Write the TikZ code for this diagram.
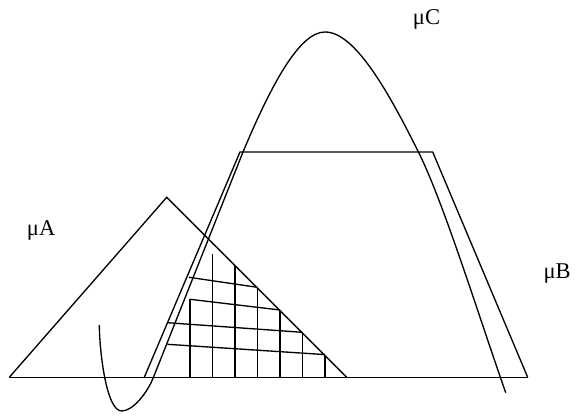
\documentclass[tikz,border=0pt]{standalone}
\usepackage{fontspec}
\setmainfont{Liberation Serif}
\begin{document}
\begin{tikzpicture}[x=0.75pt,y=-0.75pt,
  shape line/.style={line width=1pt, line join=miter},
  hatch/.style={line width=1pt},
  lbl/.style={inner sep=0pt, anchor=base west, font=\fontsize{16.9}{20}\selectfont}]
\useasboundingbox (0,0) rectangle (582,417);
% baseline
\coordinate (bl) at (9.3,377.3);
\coordinate (br) at (527.7,377.3);
\draw[shape line] (bl) -- (br);
% triangle A
\coordinate (ta) at (166.7,197.3);
\coordinate (tr) at (346.7,377.3);
\draw[shape line] (bl) -- (ta) -- (tr);
% trapezoid B
\coordinate (b1) at (144.3,377.3);
\coordinate (b2) at (240,152);
\coordinate (b3) at (432.7,152);
\draw[shape line] (b1) -- (b2) -- (b3) -- (br);
% curve C
\coordinate (c0) at (99.3,325);
\coordinate (cmin) at (121.7,411);
\coordinate (c1) at (153.3,377.7);
\coordinate (c2) at (243,152);
\coordinate (cpk) at (325,32);
\coordinate (c3) at (418.3,151.7);
\coordinate (cend) at (505.7,392.7);
\draw[shape line] (c0) .. controls (99.5,350) and (106,411) .. (cmin)
  .. controls (133,411) and (147.3,392.7) .. (c1) -- (c2)
  .. controls (272.4,82) and (300,32) .. (cpk)
  .. controls (355,32) and (388.3,91.7) .. (c3)
  .. controls (443.3,201.7) and (477.7,312.7) .. (cend);
% hatching: vertical lines
\draw[hatch] (190,299.3) -- (190,377.3);
\draw[hatch] (212.3,254) -- (212.3,377.3);
\draw[hatch] (235,265.6) -- (235,377.3);
\draw[hatch] (257.3,287.9) -- (257.3,377.3);
\draw[hatch] (280,310.6) -- (280,377.3);
\draw[hatch] (302.3,332.9) -- (302.3,377.3);
\draw[hatch] (325,355.6) -- (325,377.3);
% hatching: cross lines
\draw[hatch] (189,277.3) -- (257.3,287.3);
\draw[hatch] (190,299.3) -- (280,310);
\draw[hatch] (167.3,322.7) -- (302.3,332.3);
\draw[hatch] (167.3,344.3) -- (325,354.6);
% labels
\node[lbl] (la) at (26.7,235.3) {μA};
\node[lbl] (lb) at (543.3,278.5) {μB};
\node[lbl] (lc) at (412.7,24.3) {μC};
\end{tikzpicture}
\end{document}
